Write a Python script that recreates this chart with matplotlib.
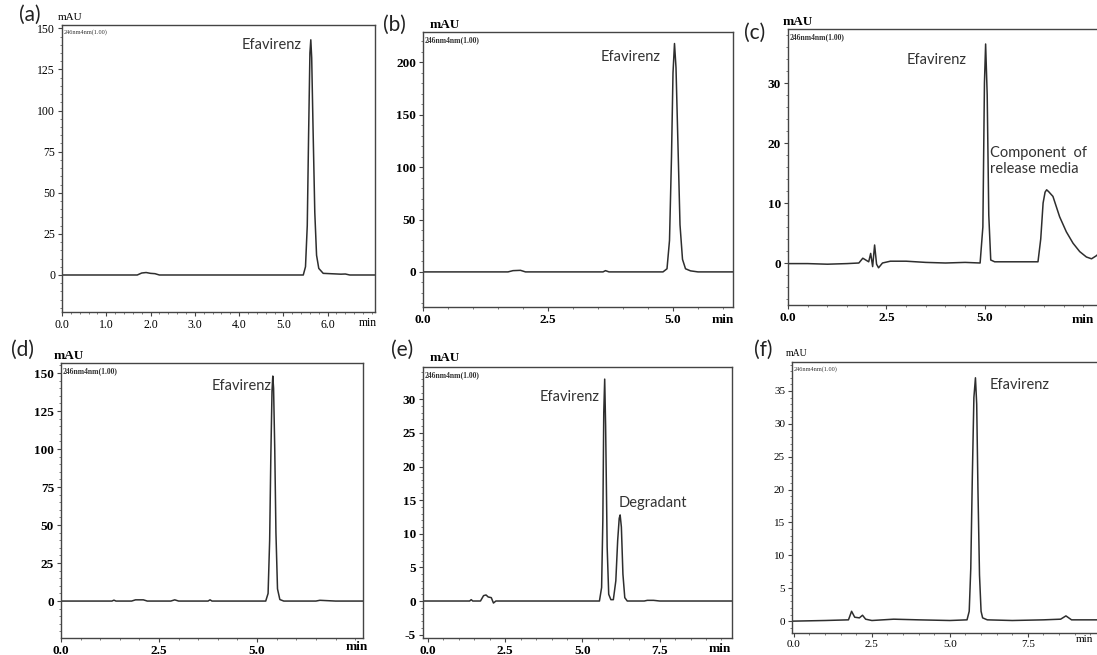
import matplotlib
matplotlib.use("Agg")
import matplotlib.pyplot as plt
from matplotlib.ticker import MultipleLocator

W, H = 1097, 655

# retention time (min) and absorbance (mAU)
t_a = [0.0, 1.7, 1.8, 1.9, 2.0, 2.1, 2.2, 5.45, 5.5, 5.54, 5.57, 5.6, 5.62, 5.64, 5.67, 5.71, 5.75, 5.8, 5.9, 6.3, 6.4, 6.5, 7.1]
y_a = [0.0, 0.0, 1.2, 1.5, 1.0, 0.8, 0.0, 0.0, 5.0, 30.0, 85.0, 135.0, 143.0, 132.0, 90.0, 38.0, 12.0, 4.0, 1.0, 0.5, 0.6, 0.0, 0.0]

t_b = [0.0, 1.7, 1.8, 1.95, 2.05, 3.6, 3.65, 3.72, 4.8, 4.88, 4.93, 4.97, 5.0, 5.03, 5.06, 5.1, 5.14, 5.19, 5.25, 5.35, 5.5, 6.2]
y_b = [0.0, 0.0, 1.2, 1.5, 0.0, 0.0, 1.2, 0.0, 0.0, 3.0, 30.0, 110.0, 190.0, 218.0, 195.0, 120.0, 45.0, 12.0, 3.0, 1.0, 0.0, 0.0]

t_c = [0.0, 0.5, 1.0, 1.5, 1.8, 1.9, 2.0, 2.05, 2.1, 2.15, 2.2, 2.25, 2.3, 2.4, 2.6, 3.0, 3.5, 4.0, 4.5,
       4.88, 4.95, 4.99, 5.02, 5.06, 5.1, 5.15, 5.25, 5.5, 6.0, 6.35, 6.42, 6.48, 6.53, 6.57, 6.62, 6.73, 6.9,
       7.07, 7.24, 7.41, 7.58, 7.71, 7.83, 7.9]
y_c = [-0.1, -0.1, -0.2, -0.1, 0.0, 0.8, 0.4, 0.2, 1.6, -0.6, 3.0, -0.2, -0.8, 0.0, 0.3, 0.3, 0.1, 0.0, 0.1,
       0.0, 6.0, 30.0, 36.5, 28.0, 8.0, 0.5, 0.2, 0.2, 0.2, 0.2, 4.0, 10.0, 11.8, 12.2, 11.9, 11.1, 7.7,
       5.2, 3.3, 1.9, 1.0, 0.7, 1.2, 1.6]

t_d = [0.0, 1.3, 1.35, 1.4, 1.8, 1.9, 2.1, 2.2, 2.8, 2.9, 3.0, 3.75, 3.8, 3.85, 5.22, 5.28, 5.32, 5.35, 5.38, 5.4,
       5.42, 5.45, 5.48, 5.52, 5.58, 5.68, 6.5, 6.6, 7.0, 7.7]
y_d = [0.0, 0.0, 0.6, 0.0, 0.0, 0.8, 0.8, 0.0, 0.0, 0.8, 0.0, 0.0, 0.8, 0.0, 0.0, 5.0, 40.0, 95.0, 138.0, 148.0,
       140.0, 100.0, 45.0, 8.0, 1.0, 0.0, 0.0, 0.5, 0.0, 0.0]

t_e = [-0.16, 1.35, 1.4, 1.45, 1.7, 1.8, 1.88, 1.95, 2.05, 2.12, 2.2, 5.55, 5.62, 5.66, 5.69, 5.72, 5.75, 5.8, 5.85,
       5.92, 6.0, 6.08, 6.14, 6.19, 6.22, 6.26, 6.31, 6.37, 6.45, 7.0, 7.1, 7.3, 7.5, 9.84]
y_e = [0.0, 0.0, 0.2, 0.0, 0.0, 0.8, 0.9, 0.6, 0.5, -0.3, 0.0, 0.0, 2.0, 12.0, 28.0, 33.0, 26.0, 8.0, 1.0,
       0.2, 0.2, 3.0, 9.0, 12.3, 12.8, 11.0, 4.0, 0.5, 0.0, 0.0, 0.1, 0.1, 0.0, 0.0]

t_f = [-0.06, 1.0, 1.75, 1.85, 1.95, 2.1, 2.2, 2.3, 2.5, 3.2, 4.0, 5.0, 5.55, 5.62, 5.67, 5.72, 5.77, 5.82,
       5.86, 5.9, 5.95, 6.0, 6.05, 6.2, 7.0, 8.0, 8.55, 8.72, 8.9, 9.78]
y_f = [0.0, 0.1, 0.2, 1.5, 0.6, 0.5, 0.9, 0.3, 0.1, 0.3, 0.2, 0.1, 0.2, 1.5, 8.0, 22.0, 34.0, 37.0,
       33.0, 20.0, 7.0, 1.5, 0.5, 0.2, 0.1, 0.2, 0.3, 0.8, 0.2, 0.2]

panel_labels = ["(a)", "(b)", "(c)", "(d)", "(e)", "(f)"]

fig = plt.figure(figsize=(W / 100, H / 100), dpi=100)
LINE = "#2e2e2e"
SERIF = "Liberation Serif"
SANS = "Lato"


def px_text(x, y, s, **kw):
    fig.text(x / W, 1 - y / H, s, **kw)


def panel(box, t, y, xlim, ylim, xminor, yminor, yticks, xticks, bold=True, tsize=9.5):
    l, top, r, b = box
    ax = fig.add_axes([l / W, 1 - b / H, (r - l) / W, (b - top) / H])
    ax.plot(t, y, color=LINE, lw=1.1)
    ax.set_xlim(*xlim)
    ax.set_ylim(*ylim)
    ax.set_xticks(xticks)
    ax.set_xticklabels(["%.1f" % v for v in xticks])
    ax.set_yticks(yticks)
    ax.set_yticklabels(["%d" % v for v in yticks])
    ax.xaxis.set_minor_locator(MultipleLocator(xminor))
    ax.yaxis.set_minor_locator(MultipleLocator(yminor))
    for s in ax.spines.values():
        s.set_color("#444444")
        s.set_linewidth(1.0)
    ax.tick_params(which="major", length=3, width=0.8, color="#444444", pad=2)
    ax.tick_params(which="minor", length=1.5, width=0.6, color="#666666")
    for lab in ax.get_xticklabels() + ax.get_yticklabels():
        lab.set_family(SERIF)
        lab.set_fontsize(tsize)
        lab.set_fontweight("bold" if bold else "normal")
    # detector channel tag in the corner
    ax.text(0.005, 0.985, "246nm4nm(1.00)", transform=ax.transAxes, ha="left", va="top",
            family=SERIF, fontsize=5.5 if bold else 4.5, fontweight="bold" if bold else "normal",
            color="#333333")
    return ax


panel((62, 25, 375, 312), t_a, y_a, (0, 7.07), (-22.5, 152), 0.2, 5,
      [0, 25, 50, 75, 100, 125, 150], [0, 1, 2, 3, 4, 5, 6], bold=False, tsize=8.5)
panel((423, 32, 733, 307), t_b, y_b, (0, 6.2), (-33.5, 229), 0.5, 10,
      [0, 50, 100, 150, 200], [0, 2.5, 5.0])
panel((788, 29, 1099, 305), t_c, y_c, (0, 7.9), (-7, 39), 0.5, 2,
      [0, 10, 20, 30], [0, 2.5, 5.0])
panel((61, 363, 363, 638), t_d, y_d, (0, 7.7), (-24.3, 156.6), 0.5, 5,
      [0, 25, 50, 75, 100, 125, 150], [0, 2.5, 5.0])
panel((423, 367, 732, 638), t_e, y_e, (-0.16, 9.84), (-5.5, 34.8), 0.5, 1,
      [-5, 0, 5, 10, 15, 20, 25, 30], [0, 2.5, 5.0, 7.5])
panel((792, 362, 1099, 633), t_f, y_f, (-0.06, 9.78), (-1.8, 39.4), 0.5, 1,
      [0, 5, 10, 15, 20, 25, 30, 35], [0, 2.5, 5.0, 7.5], bold=False, tsize=8)

# "min" at the end of each time axis
for x, y, bold, size in [(368, 323, False, 8.5), (723, 320, True, 9.5), (1083, 320, True, 9.5),
                         (357, 647, True, 9.5), (720, 649, True, 9.5), (1084, 639, False, 8)]:
    px_text(x, y, "min", ha="center", va="center", family=SERIF, fontsize=size,
            fontweight="bold" if bold else "normal")

# "mAU" above each y axis
for x, y, bold, size in [(70, 17, False, 8), (445, 25, True, 9.5), (798, 22, True, 9.5),
                         (69, 356, True, 9.5), (445, 358, True, 9.5), (797, 354, False, 7)]:
    px_text(x, y, "mAU", ha="center", va="center", family=SERIF, fontsize=size,
            fontweight="bold" if bold else "normal")

# panel letters
for (x, y), s in zip([(30, 15), (394, 25), (755, 33), (22, 350), (402, 350), (763, 350)], panel_labels):
    px_text(x, y, s, ha="center", va="center", family=SANS, fontsize=15, color="#222222")

# peak annotations
for x, y, s in [(242, 45, "Efavirenz"), (601, 57, "Efavirenz"), (907, 60, "Efavirenz"),
                (212, 386, "Efavirenz"), (540, 397, "Efavirenz"), (619, 503, "Degradant"),
                (990, 385, "Efavirenz")]:
    px_text(x, y, s, ha="left", va="center", family=SANS, fontsize=10.5, color="#333333")
px_text(990, 161, "Component  of\nrelease media", ha="left", va="center", family=SANS,
        fontsize=10.5, color="#333333", linespacing=1.2)

fig.savefig("out.png", dpi=100)
